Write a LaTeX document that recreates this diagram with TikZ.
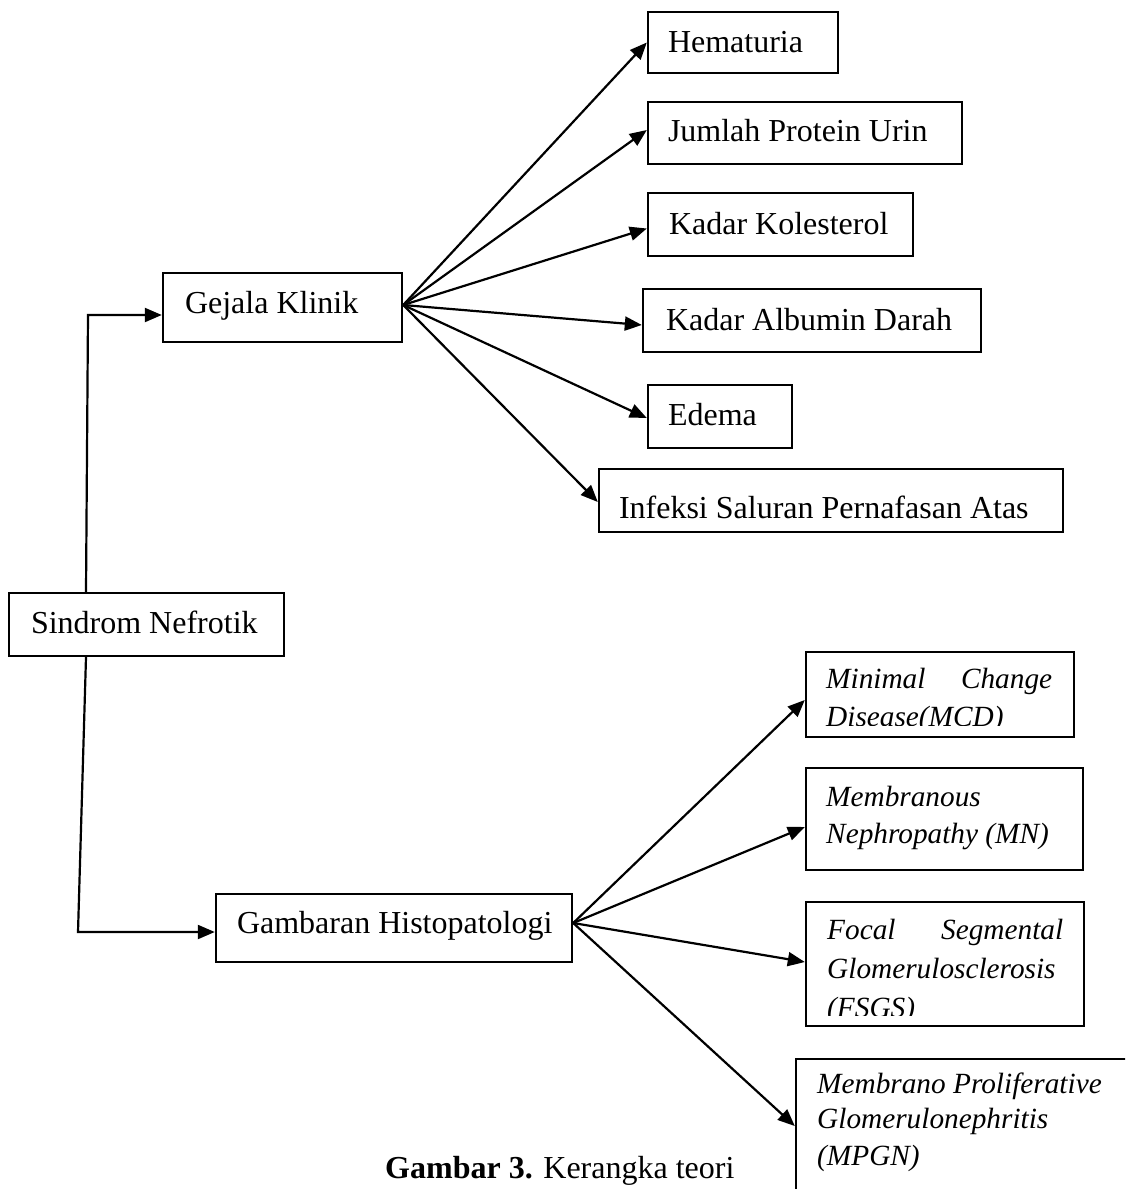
\documentclass[tikz,border=0pt]{standalone}
\usepackage{fontspec}
\setmainfont{Liberation Serif}
\usetikzlibrary{arrows.meta}
\begin{document}
\begin{tikzpicture}[x=1pt,y=-1pt,
  box/.style={draw, line width=2.4pt, rectangle, inner ysep=0pt, font=\fontsize{32}{38}\selectfont, text depth=0pt},
  ibox/.style={draw, line width=2.4pt, rectangle, inner sep=0pt},
  itxt/.style={anchor=base west, inner sep=0pt, font=\fontsize{29.3}{36}\selectfont\itshape},
  conn/.style={line width=2.2pt, -{Triangle[length=17pt,width=14pt]}}]
\useasboundingbox (0,0) rectangle (1125,1189);
\fill[white] (0,0) rectangle (1125,1189);
\clip (0,0) rectangle (1125,1189);

% upper branch boxes
\node[box, minimum width=190pt, minimum height=61pt, inner xsep=20pt, text height=19pt] (hem) at (743,42.5) {\makebox[150pt][l]{Hematuria}};
\node[box, minimum width=314pt, minimum height=62pt, inner xsep=20pt, text height=17pt] (jum) at (805,133) {\makebox[274pt][l]{Jumlah Protein Urin}};
\node[box, minimum width=265pt, minimum height=63pt, inner xsep=21pt, text height=19pt] (kol) at (780.5,224.5) {\makebox[223pt][l]{Kadar Kolesterol}};
\node[box, minimum width=338pt, minimum height=63pt, inner xsep=23pt, text height=19pt] (alb) at (812,320.5) {\makebox[292pt][l]{Kadar Albumin Darah}};
\node[box, minimum width=144pt, minimum height=63pt, inner xsep=20pt, text height=17pt] (ede) at (720,416.5) {\makebox[104pt][l]{Edema}};
\node[box, minimum width=464pt, minimum height=63pt, inner xsep=20pt, text height=35pt] (inf) at (831,500.5) {\makebox[424pt][l]{Infeksi Saluran Pernafasan Atas}};

% main boxes
\node[box, minimum width=239pt, minimum height=69pt, inner xsep=22pt, text height=11pt] (gej) at (282.5,307.5) {\makebox[195pt][l]{Gejala Klinik}};
\node[box, minimum width=275pt, minimum height=63pt, inner xsep=22pt, text height=17pt] (sin) at (146.5,624.5) {\makebox[231pt][l]{Sindrom Nefrotik}};
\node[box, minimum width=356pt, minimum height=68pt, inner xsep=21pt, text height=10pt] (gam) at (394,928) {\makebox[314pt][l]{Gambaran Histopatologi}};

% lower branch boxes (italic)
\node[ibox, minimum width=268pt, minimum height=85pt] (min) at (940,694.5) {};
\node[ibox, minimum width=277pt, minimum height=102pt] (mem) at (944.5,819) {};
\node[ibox, minimum width=278pt, minimum height=124pt] (foc) at (945,964) {};
\node[ibox, minimum width=344pt, minimum height=141pt] (mpg) at (968,1129.5) {};

\begin{scope}
\clip (808,654) rectangle (1072,725);
\node[itxt] (min1) at (826,688) {\hbox to 226pt{Minimal\hfill Change}};
\node[itxt] (min2) at (826,726) {Disease(MCD)};
\end{scope}
\node[itxt] (mem1) at (826,806) {Membranous};
\node[itxt] (mem2) at (826,843) {Nephropathy (MN)};
\begin{scope}
\clip (808,904) rectangle (1082,1015);
\node[itxt] (foc1) at (827,939) {\hbox to 236pt{Focal\hfill Segmental}};
\node[itxt] (foc2) at (827,978) {Glomerulosclerosis};
\node[itxt] (foc3) at (827,1017) {(FSGS)};
\end{scope}
\node[itxt] (mpg1) at (817,1093) {Membrano Proliferative};
\node[itxt] (mpg2) at (817,1128) {Glomerulonephritis};
\node[itxt] (mpg3) at (817,1165) {(MPGN)};

% connectors from Gejala Klinik
\coordinate (gk) at ([yshift=2.5pt]gej.east);
\draw[conn] (gk) -- (hem.west);
\draw[conn] (gk) -- ([yshift=3pt]jum.west);
\draw[conn] (gk) -- ([yshift=-4pt]kol.west);
\draw[conn] (gk) -- ([yshift=-4.5pt]alb.west);
\draw[conn] (gk) -- ([yshift=-1.5pt]ede.west);
\draw[conn] (gk) -- ([yshift=-1.5pt]inf.west);

% connectors from Gambaran Histopatologi
\coordinate (gh) at ([yshift=5pt]gam.east);
\draw[conn] (gh) -- ([yshift=-5.5pt]min.west);
\draw[conn] (gh) -- ([yshift=-8pt]mem.west);
\draw[conn] (gh) -- ([yshift=2pt]foc.west);
\draw[conn] (gh) -- ([yshift=3.5pt]mpg.west);

% connectors from Sindrom Nefrotik
\coordinate (up) at (88,315);
\coordinate (dn) at (78,932);
\draw[conn] ([xshift=-60.5pt]sin.north) -- (up) -- (up -| gej.west);
\draw[conn] ([xshift=-60.5pt]sin.south) -- (dn) -- (dn -| gam.west);

% caption
\node[anchor=base west, inner sep=0pt, font=\fontsize{32}{38}\selectfont] (cap) at (385,1178) {\textbf{Gambar 3.} Kerangka teori};
\end{tikzpicture}
\end{document}
